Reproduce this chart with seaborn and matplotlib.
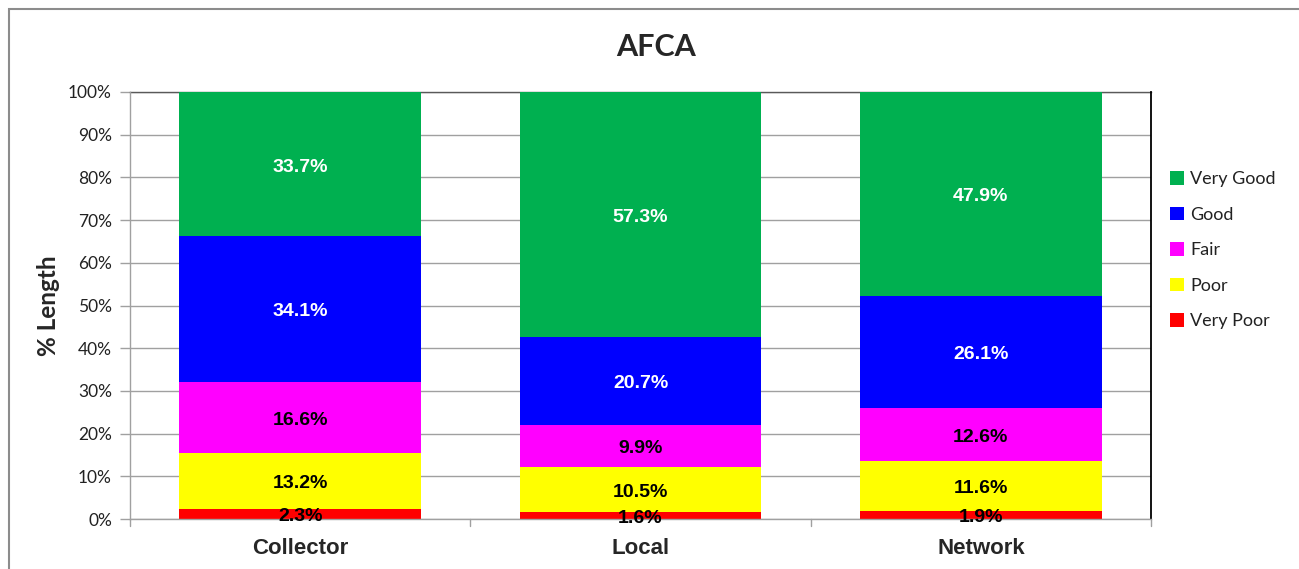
import numpy as np
import matplotlib
matplotlib.use("Agg")
import matplotlib.pyplot as plt
from matplotlib.patches import Patch, Rectangle
from matplotlib.ticker import PercentFormatter
import pandas as pd
import seaborn as sns

# data (percent of length)
categories = ["Collector", "Local", "Network"]
levels = ["Very Poor", "Poor", "Fair", "Good", "Very Good"]
very_poor = [2.3, 1.6, 1.9]
poor = [13.2, 10.5, 11.6]
fair = [16.6, 9.9, 12.6]
good = [34.1, 20.7, 26.1]
very_good = [33.7, 57.3, 47.9]
colors = ["#FF0000", "#FFFF00", "#FF00FF", "#0000FF", "#00B050"]
label_colors = ["black", "black", "black", "white", "white"]

df = pd.DataFrame({"category": categories, "Very Poor": very_poor, "Poor": poor,
                   "Fair": fair, "Good": good, "Very Good": very_good})
cum = df[levels].cumsum(axis=1)

sns.set_style("white")
plt.rcParams["font.family"] = ["Lato", "DejaVu Sans"]

fig = plt.figure(figsize=(12.99, 5.69), dpi=100)
ax = fig.add_axes([130 / 1299, 1 - 519 / 569, 1021 / 1299, 427 / 569])

# stacked bars: draw cumulative totals from the top level down
for i in range(len(levels) - 1, -1, -1):
    sns.barplot(x=df["category"], y=cum[levels[i]], color=colors[i], width=0.711,
                saturation=1, ax=ax, zorder=2, linewidth=0)

# segment labels
for j in range(len(categories)):
    for i, lev in enumerate(levels):
        v = df[lev][j]
        mid = cum[lev][j] - v / 2
        ax.annotate(f"{v:.1f}%", (j, mid), xytext=(0, -2), textcoords="offset points",
                    ha="center", va="center", fontsize=14, fontweight="bold",
                    color=label_colors[i], family="Liberation Sans", zorder=5)

ax.set_ylim(0, 100)
ax.set_xlim(-0.5, 2.5)
ax.set_yticks(np.arange(0, 101, 10))
ax.yaxis.set_major_formatter(PercentFormatter(decimals=0))
ax.grid(axis="y", color="#A0A0A0", linewidth=1, zorder=0)
ax.set_axisbelow(True)
ax.tick_params(axis="y", length=7, width=1, color="#A0A0A0", labelsize=12.5,
               labelcolor="#222222", left=True, pad=6)
ax.set_xticks([0, 1, 2])
ax.set_xticklabels(categories, fontsize=16, fontweight="bold", family="Liberation Sans")
ax.tick_params(axis="x", length=0, pad=14)
# boundary ticks between categories
for xb in [-0.5, 0.5, 1.5, 2.5]:
    ax.plot([xb, xb], [0, -1.6], color="#A0A0A0", lw=1, clip_on=False, zorder=1)

for s in ["left", "bottom"]:
    ax.spines[s].set_color("#A0A0A0")
    ax.spines[s].set_linewidth(1)
ax.spines["top"].set_color("#595959")
ax.spines["right"].set_color("black")
ax.spines["top"].set_linewidth(1)
ax.spines["right"].set_linewidth(1.3)
ax.spines["top"].set_zorder(1)

ax.set_xlabel("")
ax.set_ylabel("% Length", fontsize=17.5, fontweight="bold", labelpad=6)
fig.text(656 / 1299, 1 - 47 / 569, "AFCA", ha="center", va="center",
         fontsize=22, fontweight="bold")

handles = [Patch(facecolor=colors[i], edgecolor="none", label=levels[i])
           for i in range(len(levels) - 1, -1, -1)]
fig.legend(handles=handles, loc="upper left", bbox_to_anchor=(1154 / 1299, 1 - 155 / 569),
           frameon=False, fontsize=13, handlelength=0.75, handleheight=0.75,
           handletextpad=0.35, labelspacing=1.08, labelcolor="#222222")

# outer chart border
fig.patches.append(Rectangle((9 / 1299, -0.1), 1.2, 1 - 9 / 569 + 0.1,
                             transform=fig.transFigure, fill=False,
                             edgecolor="#8C8C8C", linewidth=1.5))

fig.savefig("out.png", dpi=100)
